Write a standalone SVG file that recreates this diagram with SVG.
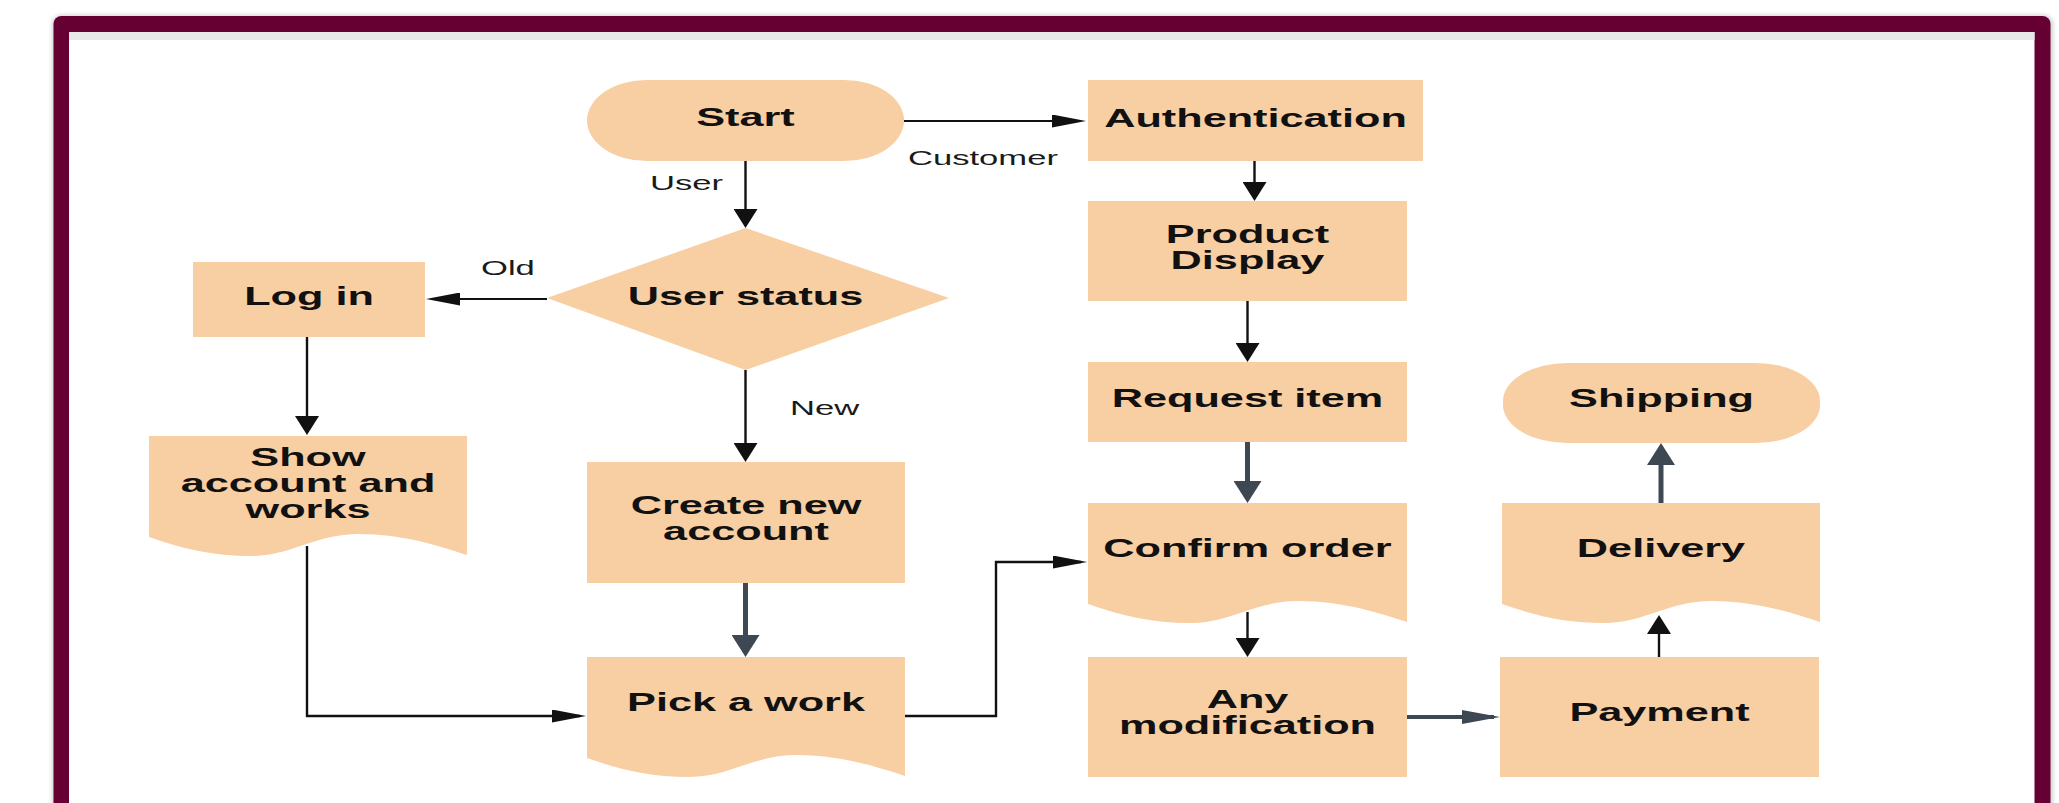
<svg xmlns="http://www.w3.org/2000/svg" width="2059" height="803" viewBox="0 0 2059 803">
  <style>
    .shape { fill: #f8cea3; }
    .t { font-family: "Liberation Sans", Arial, sans-serif; font-weight: bold; font-size: 25px; fill: #111; text-anchor: middle; }
    .lbl { font-family: "Liberation Sans", Arial, sans-serif; font-size: 20px; fill: #1a1a1a; }
    .ln { fill: none; stroke: #111; stroke-width: 2.4; }
    .ln-h { fill: none; stroke: #111; stroke-width: 2; }
    .gl { fill: none; stroke: #3e4852; stroke-width: 5; }
    .gl-h { fill: none; stroke: #3e4852; stroke-width: 4; }
  </style>
  <defs>
    <!-- arrowheads are wider across horizontal runs than vertical ones -->
    <marker id="ah-h" markerUnits="userSpaceOnUse" viewBox="0 0 34 13" markerWidth="34" markerHeight="13" refX="28" refY="6.5" orient="auto">
      <path d="M0,0 L34,6.5 L0,13 z" fill="#111"/>
    </marker>
    <marker id="ah-v" markerUnits="userSpaceOnUse" viewBox="0 0 19 24" markerWidth="19" markerHeight="24" refX="13" refY="12" orient="auto">
      <path d="M0,0 L19,12 L0,24 z" fill="#111"/>
    </marker>
    <marker id="gh-h" markerUnits="userSpaceOnUse" viewBox="0 0 38 14" markerWidth="38" markerHeight="14" refX="32" refY="7" orient="auto">
      <path d="M0,0 L38,7 L0,14 z" fill="#3e4852"/>
    </marker>
    <marker id="gh-v" markerUnits="userSpaceOnUse" viewBox="0 0 22 28" markerWidth="22" markerHeight="28" refX="16" refY="14" orient="auto">
      <path d="M0,0 L22,14 L0,28 z" fill="#3e4852"/>
    </marker>
    <filter id="soft" x="-5%" y="-5%" width="110%" height="110%">
      <feGaussianBlur stdDeviation="2"/>
    </filter>
  </defs>

  <!-- page -->
  <rect x="0" y="0" width="2059" height="803" fill="#ffffff"/>

  <!-- frame -->
  <g id="frame">
    <rect x="52" y="15" width="2001" height="830" rx="9" fill="#000" opacity="0.18" filter="url(#soft)"/>
    <rect x="53.5" y="16" width="1997" height="830" rx="8" fill="#660033"/>
    <rect x="69" y="32" width="1965.5" height="820" fill="#ffffff"/>
    <rect x="69" y="32" width="1965.5" height="8" fill="#e8e8e8"/>
  </g>

  <!-- nodes -->
  <g id="n-start">
    <rect class="shape" x="587" y="80" width="317" height="81" rx="60" ry="40.5"/>
    <text class="t" transform="translate(745.5,126) scale(1.73,1)">Start</text>
  </g>
  <g id="n-auth">
    <rect class="shape" x="1088" y="80" width="335" height="81"/>
    <text class="t" transform="translate(1255.5,127) scale(1.73,1)">Authentication</text>
  </g>
  <g id="n-status">
    <polygon class="shape" points="745.5,228 949,298 745.5,370 547,298"/>
    <text class="t" transform="translate(745.5,305) scale(1.73,1)">User status</text>
  </g>
  <g id="n-login">
    <rect class="shape" x="193" y="262" width="232" height="75"/>
    <text class="t" transform="translate(309,305) scale(1.73,1)">Log in</text>
  </g>
  <g id="n-product">
    <rect class="shape" x="1088" y="201" width="319" height="100"/>
    <text class="t" transform="translate(1247.5,243) scale(1.73,1)">Product</text>
    <text class="t" transform="translate(1247.5,269) scale(1.73,1)">Display</text>
  </g>
  <g id="n-request">
    <rect class="shape" x="1088" y="362" width="319" height="80"/>
    <text class="t" transform="translate(1247.5,407) scale(1.73,1)">Request item</text>
  </g>
  <g id="n-shipping">
    <rect class="shape" x="1503" y="363" width="317" height="80" rx="64" ry="38"/>
    <text class="t" transform="translate(1661.5,407) scale(1.73,1)">Shipping</text>
  </g>
  <g id="n-show">
    <path class="shape" d="M149,436 H467 V555 C441.6,546.6 403.4,534 358.9,534 C314.4,534 292.1,556 250.8,556 C212.6,556 180.8,548.4 149,537 Z"/>
    <text class="t" transform="translate(308,466) scale(1.73,1)">Show</text>
    <text class="t" transform="translate(308,492) scale(1.73,1)">account and</text>
    <text class="t" transform="translate(308,518) scale(1.73,1)">works</text>
  </g>
  <g id="n-create">
    <rect class="shape" x="587" y="462" width="318" height="121"/>
    <text class="t" transform="translate(746,514) scale(1.73,1)">Create new</text>
    <text class="t" transform="translate(746,540) scale(1.73,1)">account</text>
  </g>
  <g id="n-confirm">
    <path class="shape" d="M1088,503 H1407 V622 C1381.5,613.6 1343.2,601 1298.5,601 C1253.9,601 1231.6,623 1190.1,623 C1151.8,623 1119.9,615.4 1088,604 Z"/>
    <text class="t" transform="translate(1247.5,557) scale(1.73,1)">Confirm order</text>
  </g>
  <g id="n-delivery">
    <path class="shape" d="M1502,503 H1820 V622 C1794.6,613.6 1756.4,601 1711.9,601 C1667.4,601 1645.1,623 1603.8,623 C1565.6,623 1533.8,615.4 1502,604 Z"/>
    <text class="t" transform="translate(1661,557) scale(1.73,1)">Delivery</text>
  </g>
  <g id="n-pick">
    <path class="shape" d="M587,657 H905 V776 C879.6,767.6 841.4,755 796.9,755 C752.4,755 730.1,777 688.8,777 C650.6,777 618.8,769.4 587,758 Z"/>
    <text class="t" transform="translate(746,711) scale(1.73,1)">Pick a work</text>
  </g>
  <g id="n-any">
    <rect class="shape" x="1088" y="657" width="319" height="120"/>
    <text class="t" transform="translate(1247.5,708) scale(1.73,1)">Any</text>
    <text class="t" transform="translate(1247.5,734) scale(1.73,1)">modification</text>
  </g>
  <g id="n-payment">
    <rect class="shape" x="1500" y="657" width="319" height="120"/>
    <text class="t" transform="translate(1659.5,721) scale(1.73,1)">Payment</text>
  </g>

  <!-- connectors -->
  <g id="connectors">
    <path class="ln-h" d="M904,121 H1080" marker-end="url(#ah-h)"/>
    <path class="ln" d="M745.5,161 V222" marker-end="url(#ah-v)"/>
    <path class="ln-h" d="M547,299 H432" marker-end="url(#ah-h)"/>
    <path class="ln" d="M745.5,370 V456" marker-end="url(#ah-v)"/>
    <path class="ln" d="M307,337 V429" marker-end="url(#ah-v)"/>
    <path class="ln" d="M307,546 V716 H580" marker-end="url(#ah-h)"/>
    <path class="gl" d="M745.5,583 V651" marker-end="url(#gh-v)"/>
    <path class="ln" d="M905,716 H996 V562 H1081" marker-end="url(#ah-h)"/>
    <path class="ln" d="M1254.5,161 V195" marker-end="url(#ah-v)"/>
    <path class="ln" d="M1247.5,301 V356" marker-end="url(#ah-v)"/>
    <path class="gl" d="M1247.5,442 V497" marker-end="url(#gh-v)"/>
    <path class="ln" d="M1247.5,612 V651" marker-end="url(#ah-v)"/>
    <path class="gl-h" d="M1407,717 H1494" marker-end="url(#gh-h)"/>
    <path class="ln" d="M1659,657 V621" marker-end="url(#ah-v)"/>
    <path class="gl" d="M1661,503 V449" marker-end="url(#gh-v)"/>

    <text class="lbl" transform="translate(908,165) scale(1.73,1)">Customer</text>
    <text class="lbl" transform="translate(650,190) scale(1.73,1)">User</text>
    <text class="lbl" transform="translate(481,275) scale(1.73,1)">Old</text>
    <text class="lbl" transform="translate(790,415) scale(1.73,1)">New</text>
  </g>
</svg>
